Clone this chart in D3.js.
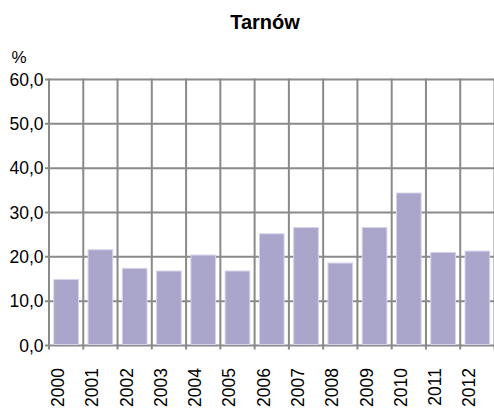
<!DOCTYPE html>
<html><head><meta charset="utf-8">
<script src="https://cdn.jsdelivr.net/npm/d3@7"></script>
<style>body{margin:0;background:#fff}svg{display:block}text{font-family:"Liberation Sans",Arial,sans-serif;fill:#000}</style>
</head><body>
<svg id="c" width="494" height="409"></svg>
<script>
const title = "Tarnów";
const unitLabel = "%";
const years = ["2000","2001","2002","2003","2004","2005","2006","2007","2008","2009","2010","2011","2012"];
const values = [14.9, 21.6, 17.4, 16.8, 20.4, 16.8, 25.2, 26.6, 18.6, 26.6, 34.4, 21.0, 21.3];
const yTicks = [0, 10, 20, 30, 40, 50, 60];

const svg = d3.select("#c");
const L = 49, R = 494.5, T = 79.5, B = 345.5;
const x = d3.scaleBand().domain(years).range([L, R]).paddingInner(0).paddingOuter(0);
const y = d3.scaleLinear().domain([0, 60]).range([B, T]);
const fmt = v => d3.format(".1f")(v).replace(".", ",");
const grid = "#8a8a8a";

// horizontal gridlines
svg.append("g").selectAll("line").data(yTicks).join("line")
  .attr("x1", L - 4).attr("x2", R).attr("y1", d => y(d)).attr("y2", d => y(d))
  .attr("stroke", grid).attr("stroke-width", 2);

// vertical gridlines at band boundaries
const bounds = years.map(d => x(d)).concat([x(years[years.length-1]) + x.bandwidth()]);
svg.append("g").selectAll("line").data(bounds).join("line")
  .attr("x1", d => d).attr("x2", d => d).attr("y1", T - 1).attr("y2", B + 4)
  .attr("stroke", grid).attr("stroke-width", 2);

// bars
const bw = x.bandwidth() * 0.72;
svg.append("g").selectAll("rect").data(values).join("rect")
  .attr("x", (d, i) => x(years[i]) + (x.bandwidth() - bw) / 2)
  .attr("width", bw)
  .attr("y", d => y(d))
  .attr("height", d => y(0) - y(d) - 1)
  .attr("fill", "#a9a5cb").attr("stroke", "#d6d4ea").attr("stroke-width", 1);

// y tick labels
svg.append("g").selectAll("text").data(yTicks).join("text")
  .attr("x", 43.5).attr("y", d => y(d)).attr("dy", "0.36em")
  .attr("text-anchor", "end").style("font-size", "17.5px").text(fmt);

// x labels
svg.append("g").selectAll("text").data(years).join("text")
  .attr("transform", d => `translate(${x(d) + x.bandwidth()/2 - 2},368) rotate(-90)`)
  .attr("text-anchor", "end").style("font-size", "17.5px").text(d => d);

// unit and title
svg.append("text").attr("x", 11.5).attr("y", 63).style("font-size", "17px").text(unitLabel);
svg.append("text").attr("x", 265).attr("y", 29).attr("text-anchor", "middle")
  .style("font-size", "20px").style("font-weight", "bold").text(title);
</script>
</body></html>
